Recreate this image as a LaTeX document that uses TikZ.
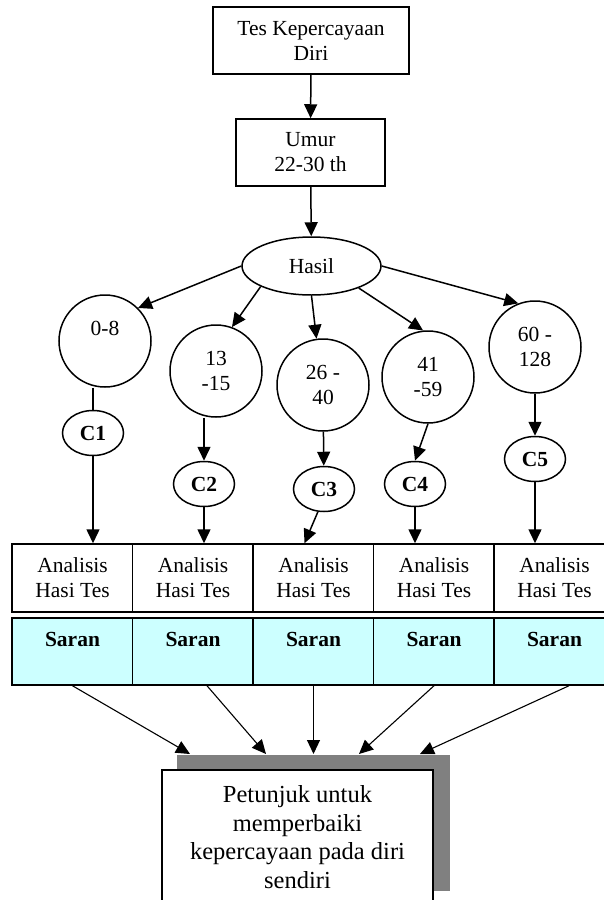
\documentclass[tikz,border=0pt]{standalone}
\usepackage{fontspec}
\setmainfont{Liberation Serif}
\usepackage{tikz}
\usetikzlibrary{shapes.geometric, arrows.meta, positioning, calc, backgrounds}
\definecolor{saranfill}{HTML}{CCFFFF}
\definecolor{shadowgray}{HTML}{808080}

\begin{document}
\begin{tikzpicture}[x=1pt, y=-1pt,
    box/.style={rectangle, draw, line width=1.5pt, fill=white, align=center, inner sep=0pt, font=\fontsize{21.5}{25}\selectfont},
    rangenode/.style={circle, draw, line width=1.5pt, minimum size=92pt, inner sep=0pt, align=center, font=\fontsize{21.5}{25}\selectfont},
    code/.style={ellipse, draw, line width=1.5pt, minimum width=61pt, minimum height=45pt, inner sep=0pt, font=\fontsize{21.5}{25}\selectfont\bfseries},
    cell/.style={box, minimum width=121pt, minimum height=68pt},
    saran/.style={cell, fill=saranfill, minimum height=67pt, font=\fontsize{21.5}{25}\selectfont\bfseries},
    arrow/.style={-{Triangle[length=14pt, width=13pt]}, line width=1.5pt},
    thinarrow/.style={-{Triangle[length=14pt, width=13pt]}, line width=1.1pt}
]
\useasboundingbox (0,0) rectangle (604,900);
\clip (0,0) rectangle (604,900);

\node[box, minimum width=196pt, minimum height=67pt] (tes) at (311,40.5) {Tes Kepercayaan\\Diri};
\node[box, minimum width=149pt, minimum height=67pt] (umur) at (310.5,152.5) {Umur\\22-30 th};
\node[ellipse, draw, line width=1.5pt, minimum width=139pt, minimum height=58pt, inner sep=0pt, font=\fontsize{21.5}{25}\selectfont] (hasil) at (311.5,266) {Hasil};

\draw[arrow] (tes) -- (umur);
\draw[arrow] (umur) -- (hasil);

% score ranges
\node[rangenode] (r1) at (105,341) {0-8\\~};
\node[rangenode] (r2) at (216,371) {13\\-15};
\node[rangenode] (r3) at (323,385) {26 -\\40};
\node[rangenode] (r4) at (428,377) {41\\-59};
\node[rangenode] (r5) at (535,347) {60 -\\128};

\draw[arrow] (hasil.west) -- (r1.45);
\draw[arrow] (hasil.202) -- (r2.70);
\draw[arrow] (hasil.south) -- (r3.98);
\draw[arrow] (hasil.335) -- (r4.96);
\draw[arrow] (hasil.east) -- (r5.111);

% categories
\node[code] (c1) at (93,433) {C1};
\node[code] (c2) at (204,484) {C2};
\node[code] (c3) at (324,489) {C3};
\node[code] (c4) at (415,484) {C4};
\node[code] (c5) at (535,459) {C5};

\draw[line width=1.5pt] (r1.south -| c1) -- (c1.north);
\draw[arrow] (r2.south -| c2) -- (c2.north);
\draw[arrow] (r3) -- (c3);
\draw[arrow] (r4.south) -- (c4.north);
\draw[arrow] (r5) -- (c5);

% analysis and advice rows
\node[cell] (a1) at (72.5,578) {Analisis\\Hasi Tes};
\node[cell] (a2) at (193,578) {Analisis\\Hasi Tes};
\node[cell] (a3) at (313.5,578) {Analisis\\Hasi Tes};
\node[cell] (a4) at (434,578) {Analisis\\Hasi Tes};
\node[cell] (a5) at (554.5,578) {Analisis\\Hasi Tes};

\node[saran] (s1) at (72.5,651.5) {Saran\\~};
\node[saran] (s2) at (193,651.5) {Saran\\~};
\node[saran] (s3) at (313.5,651.5) {Saran\\~};
\node[saran] (s4) at (434,651.5) {Saran\\~};
\node[saran] (s5) at (554.5,651.5) {Saran\\~};

\draw[arrow] (c1.south) -- (c1.south |- a1.north);
\draw[arrow] (c2.south) -- (c2.south |- a2.north);
\draw[arrow] (c3.-105) -- ($(a3.north)+(-9,0)$);
\draw[arrow] (c4.south) -- (c4.south |- a4.north);
\draw[arrow] (c5.south) -- (c5.south |- a5.north);

% final box with shadow
\node[box, anchor=north, minimum width=271pt, inner ysep=16pt, font=\fontsize{24.5}{28.5}\selectfont] (petunjuk) at (297.5,769) {Petunjuk untuk\\memperbaiki\\kepercayaan pada diri\\sendiri};
\begin{scope}[on background layer]
\fill[shadowgray] ($(petunjuk.north west)+(16,-14)$) rectangle ($(petunjuk.north east)+(16,122)$);
\end{scope}
\coordinate (shtop) at ($(petunjuk.north)+(16,-15)$);

\draw[thinarrow] (s1.south) -- ($(shtop)+(-123.5,0)$);
\draw[thinarrow] ($(s2.south)+(14,0)$) -- ($(shtop)+(-47.5,0)$);
\draw[thinarrow] (s3.south) -- (shtop);
\draw[thinarrow] (s4.south) -- ($(shtop)+(45.5,0)$);
\draw[thinarrow] ($(s5.south)+(14.5,0)$) -- ($(shtop)+(106.5,0)$);

\end{tikzpicture}
\end{document}
